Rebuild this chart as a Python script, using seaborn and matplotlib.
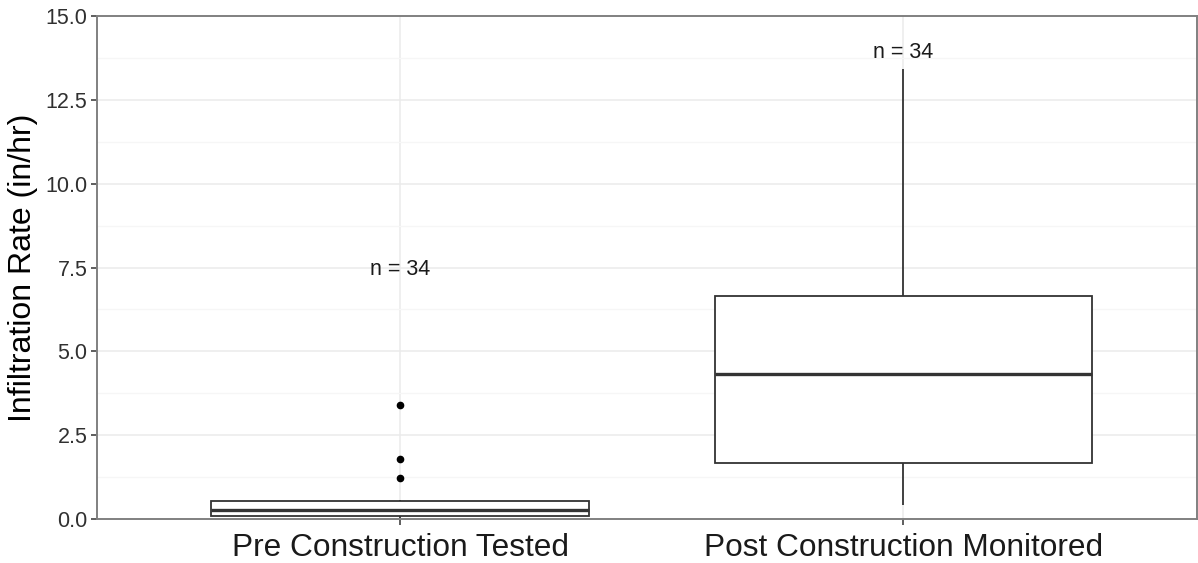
import pandas as pd
import numpy as np
import matplotlib
matplotlib.use("Agg")
import matplotlib.pyplot as plt
from matplotlib.ticker import MultipleLocator
import seaborn as sns

# values (34 per group)
groups = ["Pre Construction Tested", "Post Construction Monitored"]
pre_rates = [0.03, 0.04, 0.05, 0.05, 0.06, 0.06, 0.07, 0.07, 0.08, 0.08,
             0.10, 0.12, 0.14, 0.16, 0.18, 0.21, 0.24, 0.27,
             0.29, 0.32, 0.36, 0.40, 0.44, 0.48, 0.52, 0.53,
             0.54, 0.55, 0.56, 0.57, 0.58, 1.21, 1.79, 3.40]
post_rates = [0.43, 0.60, 0.80, 0.95, 1.10, 1.25, 1.40, 1.50, 1.65, 1.77,
              2.00, 2.40, 2.80, 3.20, 3.60, 3.90, 4.20, 4.42,
              4.70, 5.00, 5.40, 5.80, 6.10, 6.40, 6.60, 6.65,
              7.20, 7.80, 8.50, 9.20, 10.10, 11.00, 12.20, 13.41]
n_labels = ["n = 34", "n = 34"]
n_label_y = [7.45, 13.9]

df = pd.DataFrame({
    "group": [groups[0]] * len(pre_rates) + [groups[1]] * len(post_rates),
    "rate": pre_rates + post_rates,
})

sns.set_style("white")
plt.rcParams["font.family"] = ["Liberation Sans", "DejaVu Sans"]

fig = plt.figure(figsize=(11.98, 5.63), dpi=100)
ax = fig.add_axes([97 / 1198, 44 / 563, 1100 / 1198, 503 / 563])

sns.boxplot(data=df, x="group", y="rate", order=groups, width=0.75,
            color="white", linecolor="#333333", linewidth=1.3,
            showcaps=False,
            flierprops=dict(marker="o", markerfacecolor="black",
                            markeredgecolor="black", markersize=4.5),
            medianprops=dict(linewidth=2.4),
            ax=ax)

for i, (lab, y) in enumerate(zip(n_labels, n_label_y)):
    ax.text(i, y, lab, ha="center", va="center", fontsize=15.5, color="#1a1a1a")

ax.set_ylim(0, 15)
ax.set_xlim(-0.6025, 1.584)
ax.yaxis.set_major_locator(MultipleLocator(2.5))
ax.yaxis.set_minor_locator(MultipleLocator(1.25))
ax.yaxis.set_major_formatter(matplotlib.ticker.FormatStrFormatter("%.1f"))

ax.set_axisbelow(True)
ax.grid(True, which="major", color="#ebebeb", linewidth=1.1)
ax.grid(True, which="minor", axis="y", color="#f6f6f6", linewidth=0.9)

for s in ax.spines.values():
    s.set_visible(True)
    s.set_color("#808080")
    s.set_linewidth(1.4)

ax.tick_params(axis="both", which="major", direction="out", length=4,
               width=1.1, color="#333333", bottom=True, left=True)
ax.tick_params(axis="y", which="minor", length=0)
ax.tick_params(axis="y", labelsize=15.5, labelcolor="#303030", pad=3)
ax.tick_params(axis="x", labelsize=22.8, labelcolor="#1a1a1a", pad=6)

ax.set_xlabel("")
ax.set_ylabel("Infiltration Rate (in/hr)", fontsize=23, color="black", labelpad=5)

fig.savefig("out.png", dpi=100)
